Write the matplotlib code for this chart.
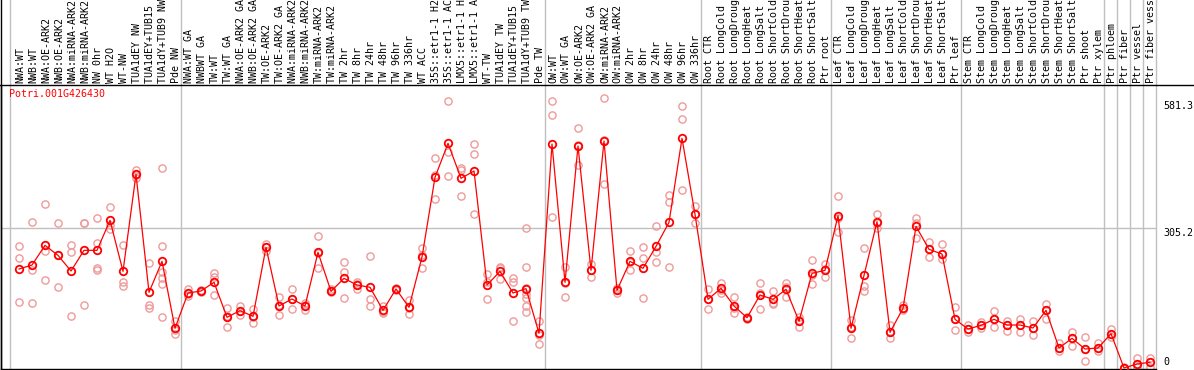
import matplotlib
matplotlib.use("Agg")
import matplotlib.pyplot as plt
from matplotlib.lines import Line2D
import numpy as np

gene = "Potri.001G426430"

samples = [
    "NWA:WT", "NWB:WT", "NWA:OE-ARK2", "NWB:OE-ARK2", "NWA:miRNA-ARK2",
    "NWB:miRNA-ARK2", "NW 0hr", "WT H2O", "WT-NW", "TUA1dEY NW",
    "TUA1dEY+TUB15 NW", "TUA1dY+TUB9 NW", "Pde NW",
    "NWA:WT GA", "NWBWT GA", "TW:WT", "TW:WT GA", "NWA:OE-ARK2 GA",
    "NWB:OE-ARK2 GA", "TW:OE-ARK2", "TW:OE-ARK2 GA", "NWA:miRNA-ARK2 GA",
    "NWB:miRNA-ARK2 GA", "TW:miRNA-ARK2", "TW:miRNA-ARK2 GA", "TW 2hr",
    "TW 8hr", "TW 24hr", "TW 48hr", "TW 96hr", "TW 336hr", "WT ACC",
    "35S::etr1-1 H2O", "35S::etr1-1 ACC", "LMX5::etr1-1 H2O",
    "LMX5::etr1-1 ACC", "WT-TW", "TUA1dEY TW", "TUA1dEY+TUB15 TW",
    "TUA1dY+TUB9 TW", "Pde TW",
    "OW:WT", "OW:WT GA", "OW:OE-ARK2", "OW:OE-ARK2 GA", "OW:miRNA-ARK2",
    "OW:miRNA-ARK2 GA", "OW 2hr", "OW 8hr", "OW 24hr", "OW 48hr",
    "OW 96hr", "OW 336hr",
    "Root CTR", "Root LongCold", "Root LongDrought", "Root LongHeat",
    "Root LongSalt", "Root ShortCold", "Root ShortDrought", "Root ShortHeat",
    "Root ShortSalt", "Ptr root",
    "Leaf CTR", "Leaf LongCold", "Leaf LongDrought", "Leaf LongHeat",
    "Leaf LongSalt", "Leaf ShortCold", "Leaf ShortDrought", "Leaf ShortHeat",
    "Leaf ShortSalt", "Ptr leaf",
    "Stem CTR", "Stem LongCold", "Stem LongDrought", "Stem LongHeat",
    "Stem LongSalt", "Stem ShortCold", "Stem ShortDrought", "Stem ShortHeat",
    "Stem ShortSalt", "Ptr shoot", "Ptr xylem",
    "Ptr phloem", "Ptr fiber", "Ptr vessel", "Ptr fiber vessel",
]

# group ends (index of last sample in each block)
group_ends = [12, 40, 52, 62, 72, 83, 84, 85, 86]

means = [
    215.8, 224.5, 267.4, 245.6, 211.5, 256.5, 256.5, 321.9, 210.7, 422.2,
    165.0, 232.5, 86.5, 163.5, 167.9, 186.8, 110.5, 125.0, 112.6, 263.1,
    135.2, 150.4, 135.2, 252.2, 167.1, 195.5, 180.9, 175.9, 125.7, 172.2,
    132.3, 242.0, 415.7, 489.8, 413.5, 429.5, 180.9, 210.7, 163.5, 173.0,
    75.6, 488.3, 186.8, 484.0, 212.9, 494.9, 169.3, 232.5, 217.3, 265.2,
    317.6, 500.7, 335.0, 149.7, 173.7, 135.2, 109.7, 159.1, 149.7, 171.5,
    101.7, 206.4, 212.9, 332.1, 86.5, 202.0, 319.0, 77.8, 130.1, 308.8,
    258.7, 248.5, 106.1, 85.0, 93.0, 106.1, 93.7, 93.7, 87.2, 125.7,
    43.6, 64.7, 41.4, 43.6, 74.8, 0.0, 8.7, 12.4,
]

replicates = [
    [266.0, 239.8, 143.9], [317.6, 213.6, 141.7], [356.8, 255.8, 191.1],
    [315.4, 245.6, 175.9], [268.2, 253.6, 112.6], [316.8, 315.4, 136.6],
    [327.0, 271.8, 217.3, 213.6], [351.0, 312.5, 302.3], [267.4, 188.2, 178.0],
    [431.7, 421.5, 413.5], [228.2, 137.3, 130.1],
    [435.3, 265.2, 210.0, 196.9, 182.4, 110.5], [102.5, 83.6, 73.4],
    [172.2, 160.6, 157.7], [170.0, 167.9, 165.7], [207.1, 199.1, 158.4],
    [130.1, 112.6, 88.7], [135.2, 124.3, 115.5], [129.4, 111.2, 97.4],
    [271.1, 263.8, 254.3], [154.1, 136.6, 114.8], [171.5, 151.2, 128.6],
    [142.4, 136.6, 126.4], [287.8, 251.4, 217.3], [171.5, 167.1, 165.0],
    [230.4, 209.3, 151.9], [187.5, 183.9, 171.5], [244.2, 149.7, 134.4],
    [135.2, 121.4, 120.6], [174.4, 172.2, 170.0], [148.2, 130.8, 117.7],
    [262.3, 246.4, 217.3], [457.1, 420.8, 367.7], [581.3, 470.9, 417.8],
    [436.7, 431.7, 375.0], [487.6, 465.8, 335.0], [204.9, 188.2, 149.7],
    [220.9, 218.0, 193.3], [195.5, 188.2, 103.2],
    [305.2, 220.2, 173.7, 161.3, 151.9, 135.2, 121.4], [103.2, 71.2, 52.3],
    [581.3, 551.6, 329.2], [220.9, 184.6, 154.8], [522.5, 486.9, 442.6],
    [226.7, 212.9, 199.1], [587.9, 496.3, 400.4], [173.7, 169.3, 164.2],
    [254.3, 230.4, 212.9], [263.1, 239.1, 151.9], [309.6, 253.6, 231.8],
    [376.4, 361.2, 220.2], [571.2, 542.1, 388.1], [353.2, 336.5, 315.4],
    [171.5, 149.7, 127.9], [186.0, 170.8, 164.2], [154.1, 130.8, 120.6],
    [111.9, 109.7, 107.6], [185.3, 164.2, 127.9], [167.9, 141.0, 140.3],
    [184.6, 175.9, 154.1], [110.5, 104.6, 90.1], [234.7, 202.0, 182.4],
    [226.0, 215.1, 197.7], [374.2, 327.7, 297.2], [104.6, 90.1, 64.7],
    [260.9, 178.8, 167.1], [335.7, 316.8, 304.5], [93.0, 77.8, 66.1],
    [137.3, 130.1, 126.4], [326.3, 316.8, 282.7], [275.4, 258.7, 241.3],
    [270.3, 248.5, 237.6], [132.3, 106.1, 82.8], [93.7, 85.0, 77.8],
    [101.0, 93.0, 87.2], [124.3, 106.1, 90.1], [103.2, 93.7, 81.4],
    [106.1, 93.7, 78.5], [103.2, 87.2, 72.7], [139.5, 125.7, 107.6],
    [55.2, 43.6, 36.3], [77.8, 64.7, 48.7], [66.9, 41.4, 15.3],
    [55.2, 43.6, 36.3], [85.0, 74.8, 68.3], [2.9, 0.0, 0.0],
    [22.5, 8.7, 2.9], [22.5, 12.4, 2.9],
]

y_ticks = [581.3, 305.2]
grid_value = 305.2

W, H = 1194, 370
fig = plt.figure(figsize=(W / 100, H / 100), dpi=100)
ax_l, ax_r, ax_t, ax_b = 1, 1156, 85, 369
ax = fig.add_axes([ax_l / W, (H - ax_b) / H, (ax_r - ax_l) / W, (ax_b - ax_t) / H])

x = np.arange(len(samples))
ax.set_xlim(-1.385, 87.46)
ax.set_ylim(-2.2, 617.0)

mono = "DejaVu Sans Mono"
grey = "#c0c0c0"
pink = "#ef9a9a"

# group separators (also run up through the label header)
ext = (ax_b - 0) / (ax_b - ax_t)
for g in [-0.69] + [e + 0.45 for e in group_ends] + [87.46]:
    ax.axvline(g, 0, ext, color=grey, lw=1.0, clip_on=False, zorder=0.5)
ax.axhline(grid_value, color=grey, lw=1.0, zorder=0.5)

# replicate points
rx = [i for i, r in enumerate(replicates) for _ in r]
ry = [v for r in replicates for v in r]
ax.plot(rx, ry, "o", ls="none", ms=5.2, mfc="none", mec=pink, mew=1.0, zorder=2)

# mean line
ax.plot(x, means, "-", color="red", lw=0.9, zorder=3)
ax.plot(x, means, "o", ls="none", ms=5.4, mfc="none", mec="red", mew=1.3, zorder=4)

for s in ["top", "right"]:
    ax.spines[s].set_visible(False)
ax.spines["left"].set_color("black")
ax.spines["bottom"].set_color("black")
ax.spines["left"].set_linewidth(1.0)
ax.spines["bottom"].set_linewidth(1.0)
ax.set_xticks([])
ax.set_yticks([])
ax.patch.set_visible(False)

# header lines across the figure
fig.add_artist(Line2D([0, 1], [(H - ax_t) / H] * 2, color="black", lw=1.0))
fig.add_artist(Line2D([ax_l / W] * 2, [0, 1], color="black", lw=1.0))

# rotated sample labels in the header
trans = ax.get_xaxis_transform()
for i, lab in enumerate(samples):
    ax.text(i + 0.08, 1 + 2 / (ax_b - ax_t), lab, rotation=90, ha="center",
            va="bottom", fontsize=7.2, family=mono, transform=trans,
            clip_on=False)

# gene name
ax.text(8.5 / (ax_r - ax_l), 1 - 4 / (ax_b - ax_t), gene, color="red",
        fontsize=7.2, family=mono, ha="left", va="top", transform=ax.transAxes)

# y labels on the right
ytrans = ax.get_yaxis_transform()
xl = (1163 - ax_l) / (ax_r - ax_l)
for v in y_ticks:
    ax.text(xl, v, f"{v:.1f}", fontsize=7.2, family=mono, ha="left", va="top",
            transform=ytrans, clip_on=False)
ax.text(xl, 3, "0", fontsize=7.2, family=mono, ha="left", va="bottom",
        transform=ytrans, clip_on=False)

fig.savefig("out.png", dpi=100)
